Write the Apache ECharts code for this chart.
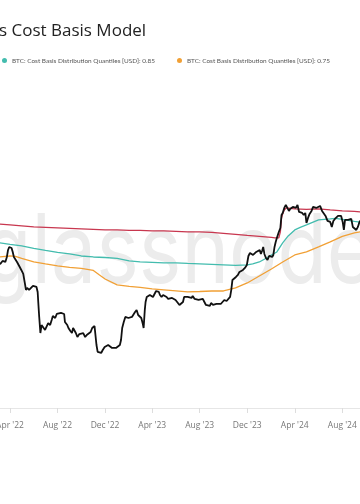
<!DOCTYPE html>
<html><head><meta charset="utf-8">
<script src="https://cdn.jsdelivr.net/npm/echarts@6/dist/echarts.min.js"></script>
<style>html,body{margin:0;padding:0;background:#fff;}#c{width:360px;height:504px;}</style>
</head><body><div id="c"></div>
<script>
// ---- data (USD) ----
const priceDates = ['2022-02-26','2022-03-01','2022-03-07','2022-03-10','2022-03-13','2022-03-17','2022-03-20','2022-03-24','2022-03-27','2022-03-30',
'2022-04-02','2022-04-05','2022-04-08','2022-04-11','2022-04-15','2022-04-19','2022-04-22','2022-04-26','2022-04-30','2022-05-05',
'2022-05-09','2022-05-12','2022-05-15','2022-05-20','2022-05-25','2022-05-30','2022-06-04','2022-06-08','2022-06-11','2022-06-13',
'2022-06-15','2022-06-18','2022-06-21','2022-06-25','2022-06-30','2022-07-04','2022-07-08','2022-07-13','2022-07-17','2022-07-20',
'2022-07-26','2022-07-30','2022-08-04','2022-08-10','2022-08-14','2022-08-18','2022-08-20','2022-08-26','2022-08-29','2022-09-03',
'2022-09-07','2022-09-10','2022-09-13','2022-09-17','2022-09-21','2022-09-26','2022-10-01','2022-10-06','2022-10-11','2022-10-15',
'2022-10-20','2022-10-25','2022-10-29','2022-11-04','2022-11-07','2022-11-09','2022-11-12','2022-11-17','2022-11-21','2022-11-25',
'2022-11-30','2022-12-04','2022-12-09','2022-12-14','2022-12-19','2022-12-24','2022-12-29','2023-01-03','2023-01-08','2023-01-11',
'2023-01-14','2023-01-18','2023-01-22','2023-01-26','2023-01-30','2023-02-03','2023-02-08','2023-02-12','2023-02-16','2023-02-20',
'2023-02-24','2023-02-28','2023-03-04','2023-03-08','2023-03-10','2023-03-13','2023-03-15','2023-03-18','2023-03-22','2023-03-26',
'2023-03-30','2023-04-03','2023-04-07','2023-04-11','2023-04-14','2023-04-18','2023-04-21','2023-04-25','2023-04-29','2023-05-04',
'2023-05-08','2023-05-12','2023-05-17','2023-05-22','2023-05-27','2023-05-31','2023-06-05','2023-06-10','2023-06-15','2023-06-19',
'2023-06-22','2023-06-26','2023-07-01','2023-07-06','2023-07-11','2023-07-14','2023-07-19','2023-07-24','2023-07-29','2023-08-03',
'2023-08-09','2023-08-14','2023-08-17','2023-08-22','2023-08-27','2023-08-30','2023-09-04','2023-09-09','2023-09-13','2023-09-18',
'2023-09-24','2023-09-29','2023-10-03','2023-10-09','2023-10-14','2023-10-18','2023-10-21','2023-10-24','2023-10-28','2023-11-02',
'2023-11-07','2023-11-11','2023-11-15','2023-11-20','2023-11-25','2023-11-30','2023-12-04','2023-12-08','2023-12-12','2023-12-16',
'2023-12-20','2023-12-24','2023-12-28','2024-01-02','2024-01-05','2024-01-08','2024-01-11','2024-01-14','2024-01-18','2024-01-22',
'2024-01-26','2024-01-30','2024-02-03','2024-02-06','2024-02-09','2024-02-12','2024-02-15','2024-02-20','2024-02-24','2024-02-27',
'2024-03-01','2024-03-05','2024-03-09','2024-03-13','2024-03-17','2024-03-20','2024-03-24','2024-03-27','2024-03-31','2024-04-04',
'2024-04-08','2024-04-12','2024-04-16','2024-04-20','2024-04-24','2024-04-28','2024-05-01','2024-05-05','2024-05-09','2024-05-14',
'2024-05-18','2024-05-21','2024-05-26','2024-05-31','2024-06-05','2024-06-10','2024-06-14','2024-06-19','2024-06-24','2024-06-28',
'2024-07-01','2024-07-05','2024-07-09','2024-07-13','2024-07-17','2024-07-21','2024-07-25','2024-07-29','2024-08-02','2024-08-05',
'2024-08-08','2024-08-12','2024-08-16','2024-08-20','2024-08-24','2024-08-28','2024-09-01','2024-09-06','2024-09-10','2024-09-14',
'2024-09-18'];
const priceValues = [38070,38470,37690,37300,38870,39270,38470,40500,43544,44910,
44910,44450,42650,40500,40090,38470,37690,36530,35418,33990,
30970,28807,29410,28807,29410,30030,29720,29720,28220,24670,
21800,18470,20060,19650,19057,19450,20480,20060,21131,22020,
21570,22480,22250,22720,23190,22480,20700,20060,19450,18860,
18470,19450,19650,18470,17720,18280,18090,18470,17720,18090,
17900,18660,19450,19850,19650,16320,15190,15500,15030,15500,
15990,16150,16320,16660,15830,15990,15830,15990,16320,17188,
19450,20700,21800,22250,21570,21800,21800,21570,22950,23431,
22250,22480,21570,20270,19450,23431,25450,26800,27080,27360,
27080,26800,27640,28510,28807,28220,27360,26800,27360,27360,
26800,26250,26520,26520,26250,25980,25450,24670,24170,25450,
26800,26800,26800,26520,26520,27080,26250,25980,25980,25980,
26250,25980,24670,24670,24420,25190,24670,24170,24930,25190,
24930,25450,25980,25710,25980,26800,28807,31941,32270,32950,
33640,34700,35050,35418,36160,37300,40920,42210,41350,41350,
42210,42650,41780,43544,41780,43100,44910,41780,40090,39270,
40920,41350,40500,41350,44910,47290,49290,52440,54650,62510,
63817,67197,69310,70756,65145,66510,67197,67894,69310,67197,
69310,64476,63160,63817,62510,63817,57550,60600,63160,65145,
67894,69310,67197,67894,68600,65145,63817,61870,58750,59360,
58150,55220,58750,59980,61230,61870,61230,61870,58150,53534,
59360,59980,59360,58150,59980,55220,54650,53534,55220,58150,
59360];

const q95Dates = ['2022-02-15','2022-03-01','2022-04-01','2022-05-01','2022-06-01','2022-07-01','2022-08-01','2022-09-01','2022-10-01','2022-11-01',
'2022-12-01','2023-01-01','2023-02-01','2023-03-01','2023-04-01','2023-05-01','2023-06-01','2023-07-01','2023-08-01','2023-09-01',
'2023-10-01','2023-11-01','2023-12-01','2024-01-01','2024-02-01','2024-02-10','2024-02-20','2024-02-24','2024-02-27','2024-03-01',
'2024-03-05','2024-03-10','2024-03-15','2024-04-01','2024-05-01','2024-06-01','2024-07-01','2024-08-01','2024-09-01','2024-09-20'];
const q95Values = [57550,56960,56370,55790,55220,54930,54650,54370,54090,53810,
53534,53534,53260,53260,52990,52990,52710,52440,52440,52170,
51640,51100,50580,50060,49540,49290,49290,52440,60600,63160,
65821,67197,67540,66510,66160,66510,65821,65145,64810,64476];

const q85Dates = ['2022-02-15','2022-03-01','2022-04-01','2022-05-01','2022-06-01','2022-07-01','2022-08-01','2022-09-01','2022-10-01','2022-11-01',
'2022-12-01','2023-01-01','2023-02-01','2023-03-01','2023-04-01','2023-05-01','2023-06-01','2023-07-01','2023-08-01','2023-09-01',
'2023-10-01','2023-11-01','2023-12-01','2023-12-15','2024-01-01','2024-01-15','2024-02-01','2024-02-15','2024-03-01','2024-03-15',
'2024-04-01','2024-04-15','2024-05-01','2024-06-01','2024-07-01','2024-07-15','2024-08-01','2024-09-01','2024-09-20'];
const q85Values = [47290,47050,46100,45380,44220,43320,42430,41780,40920,40500,
40290,39880,38870,38470,38270,38070,38070,37880,37690,37490,
37300,37110,37300,37690,38470,39680,41350,42650,46810,50320,
53534,54930,56370,59360,59980,60290,59670,58450,57850];

const q75Dates = ['2022-02-15','2022-03-01','2022-04-01','2022-04-15','2022-05-01','2022-06-01','2022-07-01','2022-08-01','2022-09-01','2022-10-01',
'2022-11-01','2022-11-15','2022-12-01','2023-01-01','2023-02-01','2023-03-01','2023-04-01','2023-05-01','2023-06-01','2023-07-01',
'2023-08-01','2023-09-01','2023-10-01','2023-11-01','2023-12-01','2024-01-01','2024-02-01','2024-03-01','2024-04-01','2024-05-01',
'2024-06-01','2024-07-01','2024-08-01','2024-09-01','2024-09-20'];
const q75Values = [40500,40500,40920,40710,39880,38470,37690,36910,36340,35970,
35240,33810,32270,30340,29870,29560,29110,28807,28510,28220,
28360,28510,28510,29410,30970,33290,35790,38470,41350,42650,
44910,47290,50060,51900,52710];

const tickDates = ['2022-04-01','2022-08-01','2022-12-01','2023-04-01','2023-08-01','2023-12-01','2024-04-01','2024-08-01'];
const tickLabels = ["Apr '22","Aug '22","Dec '22","Apr '23","Aug '23","Dec '23","Apr '24","Aug '24"];

const titleText = 's Cost Basis Model';
const nameQ85 = 'BTC: Cost Basis Distribution Quantiles [USD]: 0.85';
const nameQ75 = 'BTC: Cost Basis Distribution Quantiles [USD]: 0.75';
const nameQ95 = 'Quantile 0.95';
const namePrice = 'Price';

// ---- build ----
function ts(s){const p=s.split('-');return new Date(+p[0],+p[1]-1,+p[2]).getTime();}
function pairs(d,v){return d.map((s,i)=>[ts(s),v[i]]);}
const tickTs = tickDates.map(ts);

const chart = echarts.init(document.getElementById('c'), null, {renderer:'canvas'});
chart.setOption({
  animation:false,
  backgroundColor:'#ffffff',
  title:{text:titleText,left:-1,top:23,padding:0,
    textStyle:{fontFamily:'Open Sans',fontSize:17,fontWeight:'normal',color:'#222'}},
  legend:[
    {data:[nameQ85],left:2,top:57.5,padding:0,icon:'circle',itemWidth:5,itemHeight:5,
     textStyle:{fontFamily:'Lato',fontSize:6.45,color:'#555'}},
    {data:[nameQ75],left:177,top:57.5,padding:0,icon:'circle',itemWidth:5,itemHeight:5,
     textStyle:{fontFamily:'Lato',fontSize:6.45,color:'#555'}}
  ],
  graphic:[{type:'text',x:-18,y:254,scaleX:0.84,z:-10,silent:true,
    style:{text:'glassnode',font:'normal 96px Inter',fill:'#ececec',textAlign:'left',textVerticalAlign:'middle'}}],
  grid:{left:0,right:0,top:80,bottom:96,outerBoundsMode:'none',containLabel:false},
  xAxis:{type:'value',min:new Date(2022,2,6,8).getTime(),max:new Date(2024,8,15,10).getTime(),
    axisLine:{onZero:false,lineStyle:{color:'#e6e6e6',width:1}},
    axisTick:{show:true,customValues:tickTs,length:5,lineStyle:{color:'#dddddd'}},
    axisLabel:{customValues:tickTs,margin:13,fontSize:8.5,fontFamily:'Open Sans',color:'#777',hideOverlap:false,
      formatter:function(v){const i=tickTs.indexOf(v);return i>=0?tickLabels[i]:'';}},
    splitLine:{show:false}},
  yAxis:{type:'log',min:8516,max:251800,show:false,splitLine:{show:false}},
  series:[
    {name:nameQ95,type:'line',data:pairs(q95Dates,q95Values),symbol:'none',lineStyle:{color:'#c8374f',width:1.3},itemStyle:{color:'#c8374f'}},
    {name:nameQ85,type:'line',data:pairs(q85Dates,q85Values),symbol:'none',lineStyle:{color:'#43bcae',width:1.3},itemStyle:{color:'#43bcae'}},
    {name:nameQ75,type:'line',data:pairs(q75Dates,q75Values),symbol:'none',lineStyle:{color:'#f1a035',width:1.3},itemStyle:{color:'#f1a035'}},
    {name:namePrice,type:'line',data:pairs(priceDates,priceValues),symbol:'none',lineStyle:{color:'#111',width:1.8},itemStyle:{color:'#111'}}
  ]
});
</script></body></html>
